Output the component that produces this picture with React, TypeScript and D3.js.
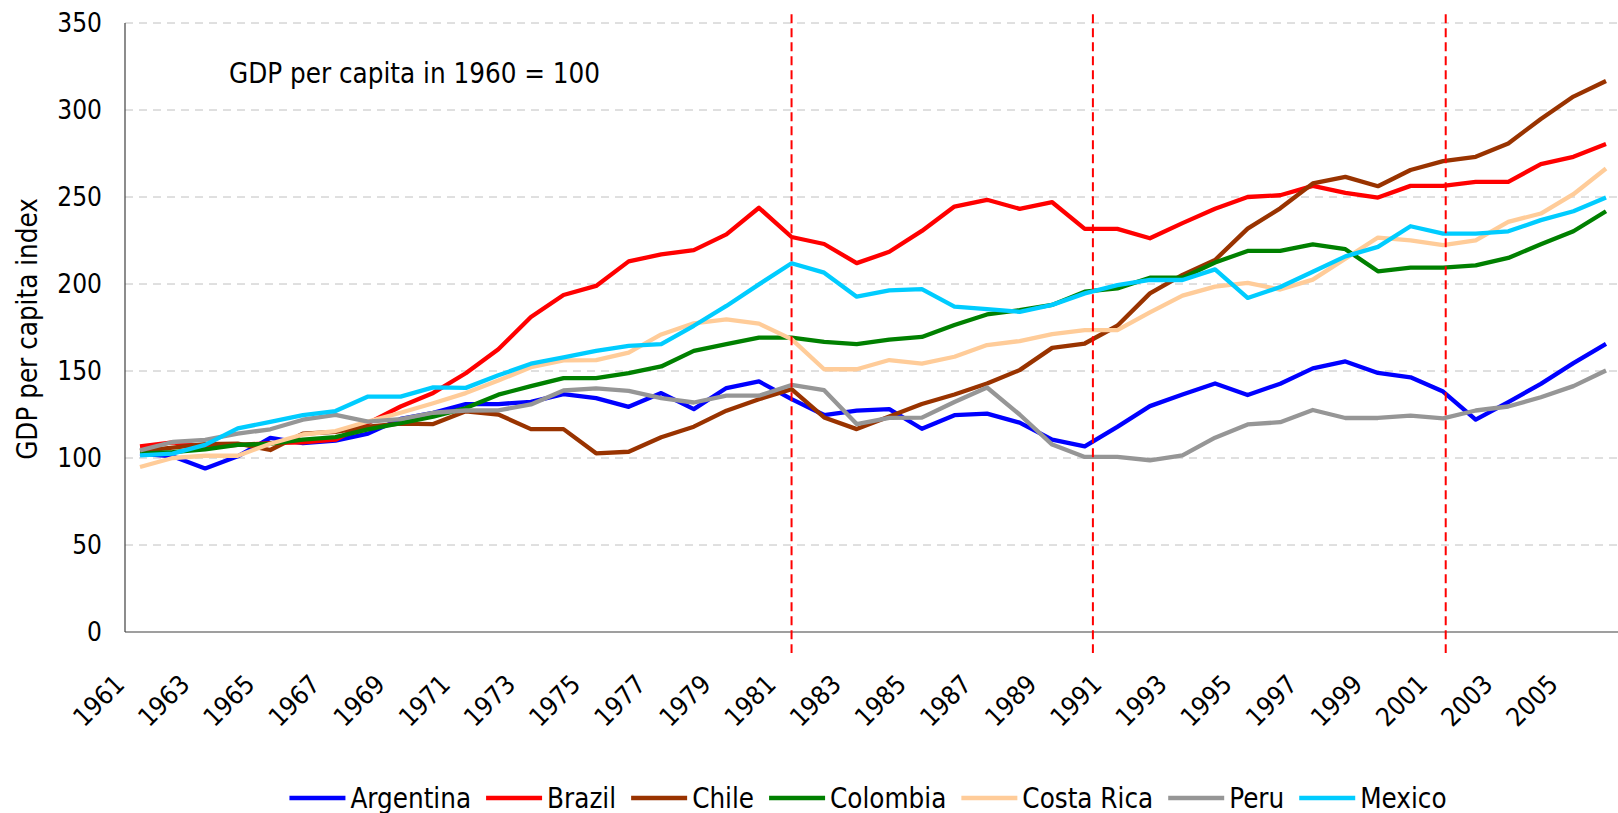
import { useEffect, useRef } from "react";
import * as d3 from "d3";

const years = d3.range(1961, 2007);
const tickYears = d3.range(1961, 2006, 2);
const yTicks = [0, 50, 100, 150, 200, 250, 300, 350];
const breakYears = [1981, 1990.25, 2001.08];

const countries = ["Argentina", "Brazil", "Chile", "Colombia", "Costa Rica", "Peru", "Mexico"];
const colors = ["#0000ff", "#ff0000", "#993300", "#008000", "#ffcc99", "#969696", "#00ccff"];

const argentina = [102.5, 101, 94, 101, 111.5, 108.6, 110, 114, 122.5, 126, 131, 131, 132.3, 136.7, 134.4, 129.4, 137.3, 128.1, 140.2, 144, 133.8, 124.7, 127.2, 128.1, 116.8, 124.6, 125.5, 120.3, 110.6, 106.7, 117.9, 129.8, 136.5, 142.8, 136.2, 142.7, 151.5, 155.5, 148.9, 146.4, 138.2, 122.1, 132.1, 142.6, 154.5, 165.6];
const brazil = [106.7, 109, 106.4, 107.5, 108.5, 109, 110.5, 120, 129.6, 137.4, 148.7, 162.5, 181, 193.7, 198.9, 213, 217, 219.5, 228.5, 243.8, 227, 223, 212, 218.5, 230.5, 244.5, 248.4, 243.2, 247, 231.7, 231.7, 226.3, 235, 243.2, 250, 251, 256.4, 252.4, 249.7, 256.4, 256.4, 258.7, 258.7, 268.9, 273.1, 280.4];
const chile = [104, 106, 108, 108.3, 104.6, 114, 115, 118, 119.7, 119.5, 126.8, 125, 116.6, 116.6, 102.7, 103.6, 111.9, 118, 127.2, 133.8, 139.6, 123.3, 116.6, 123.8, 131, 136.5, 142.8, 150.5, 163.3, 165.8, 176, 194.6, 205.2, 213.8, 231.8, 243.5, 257.8, 261.6, 256.2, 265.5, 270.6, 273.1, 280.8, 294.8, 307.7, 316.7];
const colombia = [102.5, 103.4, 105, 107.5, 108.2, 110.5, 112, 116.4, 120, 123.8, 128.7, 136.4, 141.3, 145.9, 145.9, 148.8, 152.6, 161.6, 165.4, 169.2, 169.2, 166.7, 165.4, 168, 169.6, 176.4, 182.5, 185, 188, 195.6, 197.5, 203.6, 203.6, 212.3, 219, 219, 222.8, 220, 207.3, 209.4, 209.4, 210.7, 215, 222.8, 230.3, 241.8];
const costaRica = [94.8, 100, 101.3, 101.3, 108.2, 113.5, 115.5, 121, 126, 131.5, 137.3, 144.5, 152.2, 156.1, 156.2, 160.6, 171, 177.4, 179.7, 177.2, 168.3, 151, 151, 156.3, 154.2, 158.2, 164.9, 167.2, 171.2, 173.5, 173.5, 183.7, 193.3, 198.5, 200.6, 196.8, 202.5, 214.6, 226.7, 225.1, 222.3, 225.1, 235.7, 240.5, 251.6, 266.4];
const peru = [104.4, 109.2, 110.4, 114, 116.5, 122, 124.8, 120.9, 122.3, 126, 127.3, 127.4, 130.8, 138.8, 140, 138.6, 134.4, 131.9, 135.8, 135.8, 142, 139, 119.5, 123.1, 123.2, 132.2, 140.5, 125, 107.7, 100.6, 100.6, 98.7, 101.5, 111.7, 119.3, 120.6, 127.6, 123, 123, 124.4, 122.8, 127.3, 129.6, 134.9, 141.3, 150.3];
const mexico = [101.5, 102.5, 107.5, 117, 120.8, 124.6, 127, 135.3, 135.3, 140.6, 140.3, 147.5, 154.2, 157.8, 161.6, 164.4, 165.4, 176, 187.4, 199.8, 211.9, 206.5, 192.7, 196.3, 197, 187, 185.6, 184, 188, 194.6, 199.4, 202.3, 202.3, 208.4, 192, 198.3, 207, 215.9, 221.3, 233.2, 229, 229, 230.3, 236.7, 241.8, 249.7];

const series = [argentina, brazil, chile, colombia, costaRica, peru, mexico];

const W = 1618;
const H = 813;
const FONT = "'DejaVu Sans Condensed', 'DejaVu Sans', sans-serif";

export default function App() {
  const ref = useRef<SVGSVGElement>(null);

  useEffect(() => {
    const svg = d3.select(ref.current);
    svg.selectAll("*").remove();

    const left = 125;
    const x = d3.scaleLinear().domain([1961, 2006]).range([140, 1606]);
    const y = d3.scaleLinear().domain([0, 350]).range([632, 23]);

    // gridlines
    svg
      .append("g")
      .selectAll("line")
      .data(yTicks.filter((d) => d > 0))
      .enter()
      .append("line")
      .attr("x1", left)
      .attr("x2", W)
      .attr("y1", (d) => y(d))
      .attr("y2", (d) => y(d))
      .attr("stroke", "#c0c0c0")
      .attr("stroke-width", 1)
      .attr("stroke-dasharray", "8,6");

    // axes lines
    svg.append("line").attr("x1", left).attr("x2", left).attr("y1", y(350)).attr("y2", y(0)).attr("stroke", "#404040").attr("stroke-width", 1.2);
    svg.append("line").attr("x1", left).attr("x2", W).attr("y1", y(0)).attr("y2", y(0)).attr("stroke", "#404040").attr("stroke-width", 1.2);

    // y tick labels
    svg
      .append("g")
      .selectAll("text")
      .data(yTicks)
      .enter()
      .append("text")
      .attr("x", 102)
      .attr("y", (d) => y(d))
      .attr("dy", "0.36em")
      .attr("text-anchor", "end")
      .attr("font-family", FONT)
      .attr("font-size", 26)
      .text((d) => d);

    // x tick labels (rotated)
    svg
      .append("g")
      .selectAll("text")
      .data(tickYears)
      .enter()
      .append("text")
      .attr("transform", (d) => `translate(${x(d) - 14},${y(0) + 54}) rotate(-45)`)
      .attr("text-anchor", "end")
      .attr("font-family", FONT)
      .attr("font-size", 26)
      .text((d) => d);

    // y axis title
    svg
      .append("text")
      .attr("transform", `translate(37,329) rotate(-90)`)
      .attr("text-anchor", "middle")
      .attr("font-family", FONT)
      .attr("font-size", 27.5)
      .text("GDP per capita index");

    // annotation
    svg
      .append("text")
      .attr("x", 229)
      .attr("y", 83)
      .attr("font-family", FONT)
      .attr("font-size", 27.5)
      .text("GDP per capita in 1960 = 100");

    // lines
    const line = d3
      .line<number>()
      .x((_, i) => x(years[i]))
      .y((d) => y(d));

    svg
      .append("g")
      .selectAll("path")
      .data(series)
      .enter()
      .append("path")
      .attr("d", (d) => line(d))
      .attr("fill", "none")
      .attr("stroke", (_, i) => colors[i])
      .attr("stroke-width", 4.3)
      .attr("stroke-linejoin", "round");

    // break markers
    svg
      .append("g")
      .selectAll("line")
      .data(breakYears)
      .enter()
      .append("line")
      .attr("x1", (d) => x(d))
      .attr("x2", (d) => x(d))
      .attr("y1", y(355))
      .attr("y2", y(-12))
      .attr("stroke", "#ff0000")
      .attr("stroke-width", 2)
      .attr("stroke-dasharray", "9,5");

    // legend
    const legend = svg.append("g");
    const swatch = 56;
    let cx = 0;
    countries.forEach((name, i) => {
      const g = legend.append("g").attr("transform", `translate(${cx},0)`);
      g.append("line")
        .attr("x1", 0)
        .attr("x2", swatch)
        .attr("y1", 0)
        .attr("y2", 0)
        .attr("stroke", colors[i])
        .attr("stroke-width", 4.3);
      const t = g
        .append("text")
        .attr("x", swatch + 5)
        .attr("dy", "0.36em")
        .attr("font-family", FONT)
        .attr("font-size", 27.5)
        .text(name);
      const w = (t.node() as SVGTextElement).getComputedTextLength();
      cx += swatch + 5 + w + 15;
    });
    const total = cx - 15;
    legend.attr("transform", `translate(${868 - total / 2},798)`);
  }, []);

  return (
    <div style={{ position: "absolute", left: 0, top: 0 }}>
      <svg ref={ref} width={W} height={H} style={{ display: "block", background: "#fff" }}></svg>
    </div>
  );
}
